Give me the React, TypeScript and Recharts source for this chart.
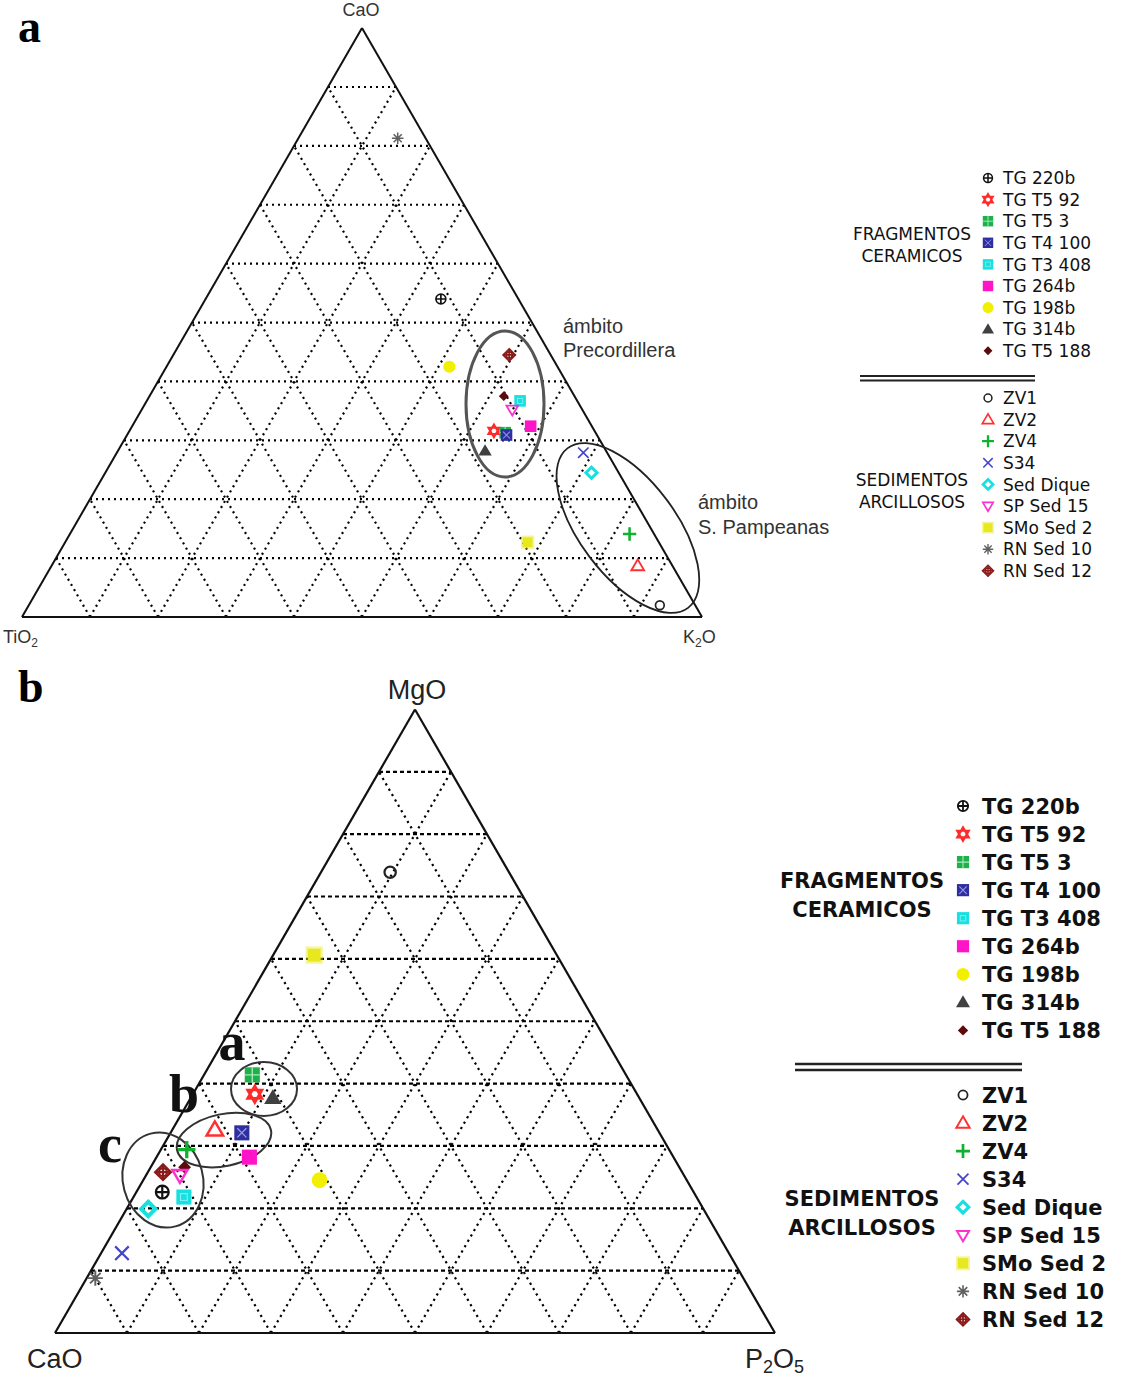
import React from 'react';
import { ScatterChart, Scatter, XAxis, YAxis, ReferenceLine } from 'recharts';

// sample names, in legend order
const SAMPLES = [
  'TG 220b', 'TG T5 92', 'TG T5 3', 'TG T4 100', 'TG T3 408', 'TG 264b', 'TG 198b', 'TG 314b', 'TG T5 188',
  'ZV1', 'ZV2', 'ZV4', 'S34', 'Sed Dique', 'SP Sed 15', 'SMo Sed 2', 'RN Sed 10', 'RN Sed 12',
];
const KINDS = [
  'crossCircle', 'star', 'squareGrid', 'squareHatch', 'squareCyan', 'square', 'circle', 'triangle', 'diamond',
  'openCircle', 'openTriangle', 'plus', 'x', 'openDiamond', 'downTriangle', 'squareSoft', 'asterisk', 'crossDiamond',
];
const COLORS = [
  '#111111', '#ff2a2a', '#1fb04a', '#2e2e9e', '#19e0e0', '#ff14c8', '#f2f000', '#404040', '#5c0a0a',
  '#222222', '#ff3030', '#10b030', '#4444cc', '#18e0e0', '#ff30d0', '#e8e820', '#606060', '#8a1a1a',
];

// panel a : CaO (top) - TiO2 (left) - K2O (right)
const A_CAO = [54.0, 31.6, 31.3, 30.9, 36.7, 32.4, 42.5, 28.2, 37.5, 2.0, 8.7, 14.1, 27.9, 24.5, 35.2, 12.7, 81.3, 44.5];
const A_TIO2 = [11.4, 14.8, 13.3, 13.3, 8.4, 9.0, 15.9, 17.8, 10.4, 5.2, 5.1, 3.6, 3.5, 4.0, 10.3, 19.3, 4.1, 6.1];
const A_K2O = [34.6, 53.6, 55.4, 55.8, 54.9, 58.6, 41.6, 54.0, 52.1, 92.8, 86.2, 82.3, 68.6, 71.5, 54.5, 68.0, 14.6, 49.4];

// panel b : MgO (top) - CaO (left) - P2O5 (right)
const B_MGO = [22.6, 38.3, 41.4, 32.1, 21.8, 28.2, 24.5, 37.7, 26.6, 73.9, 32.6, 29.4, 12.8, 19.9, 25.3, 60.6, 8.8, 25.8];
const B_CAO = [73.8, 53.1, 51.9, 58.0, 71.2, 58.9, 51.0, 50.9, 68.7, 16.5, 61.5, 67.0, 84.3, 77.1, 70.0, 33.7, 90.0, 72.1];
const B_P2O5 = [3.6, 8.6, 6.7, 9.9, 7.0, 12.9, 24.5, 11.4, 4.7, 9.6, 5.9, 3.6, 2.9, 3.0, 4.7, 5.7, 1.2, 2.1];

const TICKS = [10, 20, 30, 40, 50, 60, 70, 80, 90];

const H = Math.sqrt(3) / 2;
const toXY = (top: number, left: number, right: number) => {
  const sum = top + left + right;
  const t = (top / sum) * 100;
  const r = (right / sum) * 100;
  return { x: r + t / 2, y: t * H };
};

function Marker({ kind, color, cx, cy, s = 1 }: { kind: string; color: string; cx: number; cy: number; s?: number }) {
  const r = 5.8 * s;
  const w = 1.7 * s;
  switch (kind) {
    case 'crossCircle': {
      const q = r * 0.85;
      return (
        <g fill="none" stroke={color} strokeWidth={w}>
          <circle cx={cx} cy={cy} r={q} />
          <path d={`M${cx - q},${cy}H${cx + q}M${cx},${cy - q}V${cy + q}`} />
        </g>
      );
    }
    case 'star': {
      const a = r * 1.1;
      const up = `M${cx},${cy - a}L${cx + a * H},${cy + a / 2}L${cx - a * H},${cy + a / 2}Z`;
      const dn = `M${cx},${cy + a}L${cx + a * H},${cy - a / 2}L${cx - a * H},${cy - a / 2}Z`;
      return <path d={up + dn} fill="none" stroke={color} strokeWidth={w * 1.2} />;
    }
    case 'squareGrid':
      return (
        <g>
          <rect x={cx - r} y={cy - r} width={2 * r} height={2 * r} fill={color} />
          <path d={`M${cx - r},${cy}H${cx + r}M${cx},${cy - r}V${cy + r}`} stroke="#a8ecc0" strokeWidth={w * 0.6} />
        </g>
      );
    case 'squareHatch':
      return (
        <g>
          <rect x={cx - r} y={cy - r} width={2 * r} height={2 * r} fill={color} />
          <path d={`M${cx - r * 0.6},${cy - r * 0.6}L${cx + r * 0.6},${cy + r * 0.6}M${cx + r * 0.6},${cy - r * 0.6}L${cx - r * 0.6},${cy + r * 0.6}`} stroke="#9a9ae8" strokeWidth={w * 0.6} />
        </g>
      );
    case 'squareCyan':
      return (
        <g>
          <rect x={cx - r} y={cy - r} width={2 * r} height={2 * r} fill={color} />
          <rect x={cx - r * 0.45} y={cy - r * 0.45} width={r * 0.9} height={r * 0.9} fill="none" stroke="#7ff0f0" strokeWidth={w * 0.5} />
        </g>
      );
    case 'square':
      return <rect x={cx - r} y={cy - r} width={2 * r} height={2 * r} fill={color} />;
    case 'squareSoft':
      return (
        <g>
          <rect x={cx - r * 1.15} y={cy - r * 1.15} width={2.3 * r} height={2.3 * r} fill={color} opacity={0.45} />
          <rect x={cx - r * 0.85} y={cy - r * 0.85} width={1.7 * r} height={1.7 * r} fill={color} />
        </g>
      );
    case 'circle':
      return <circle cx={cx} cy={cy} r={r * 1.05} fill={color} />;
    case 'triangle': {
      const a = r * 1.15;
      return <path d={`M${cx},${cy - a}L${cx + a},${cy + a * 0.7}L${cx - a},${cy + a * 0.7}Z`} fill={color} />;
    }
    case 'diamond': {
      const a = r * 0.85;
      return <path d={`M${cx},${cy - a}L${cx + a},${cy}L${cx},${cy + a}L${cx - a},${cy}Z`} fill={color} />;
    }
    case 'openCircle':
      return <circle cx={cx} cy={cy} r={r * 0.75} fill="none" stroke={color} strokeWidth={w} />;
    case 'openTriangle': {
      const a = r * 1.1;
      return <path d={`M${cx},${cy - a}L${cx + a},${cy + a * 0.7}L${cx - a},${cy + a * 0.7}Z`} fill="none" stroke={color} strokeWidth={w * 1.1} />;
    }
    case 'downTriangle': {
      const a = r * 1.0;
      return <path d={`M${cx},${cy + a}L${cx + a},${cy - a * 0.7}L${cx - a},${cy - a * 0.7}Z`} fill="none" stroke={color} strokeWidth={w * 1.1} />;
    }
    case 'plus': {
      const a = r * 1.15;
      return <path d={`M${cx - a},${cy}H${cx + a}M${cx},${cy - a}V${cy + a}`} stroke={color} strokeWidth={w * 1.5} />;
    }
    case 'x': {
      const a = r * 0.9;
      return <path d={`M${cx - a},${cy - a}L${cx + a},${cy + a}M${cx + a},${cy - a}L${cx - a},${cy + a}`} stroke={color} strokeWidth={w} />;
    }
    case 'openDiamond': {
      const a = r * 0.95;
      return <path d={`M${cx},${cy - a}L${cx + a},${cy}L${cx},${cy + a}L${cx - a},${cy}Z`} fill="none" stroke={color} strokeWidth={w * 1.8} />;
    }
    case 'asterisk': {
      const a = r * 1.0;
      const d = a * 0.7;
      return (
        <path
          d={`M${cx - a},${cy}H${cx + a}M${cx},${cy - a}V${cy + a}M${cx - d},${cy - d}L${cx + d},${cy + d}M${cx + d},${cy - d}L${cx - d},${cy + d}`}
          stroke={color}
          strokeWidth={w * 0.9}
        />
      );
    }
    case 'crossDiamond': {
      const a = r * 1.05;
      return (
        <g fill="none" stroke={color} strokeWidth={w}>
          <path d={`M${cx},${cy - a}L${cx + a},${cy}L${cx},${cy + a}L${cx - a},${cy}Z`} />
          <circle cx={cx} cy={cy} r={a * 0.5} />
          <path d={`M${cx - a},${cy}H${cx + a}M${cx},${cy - a}V${cy + a}`} />
        </g>
      );
    }
    default:
      return null;
  }
}

type Ell = { x: number; y: number; rx: number; ry: number; rot: number; stroke: string; sw: number };

const gridLines = TICKS.flatMap((v) => [
  { dir: 'h', seg: [{ x: v / 2, y: v * H }, { x: 100 - v / 2, y: v * H }] },
  { dir: 'd', seg: [{ x: v, y: 0 }, { x: v + (100 - v) / 2, y: (100 - v) * H }] },
  { dir: 'd', seg: [{ x: 100 - v, y: 0 }, { x: (100 - v) / 2, y: (100 - v) * H }] },
]);
const edges = [
  [{ x: 0, y: 0 }, { x: 100, y: 0 }],
  [{ x: 0, y: 0 }, { x: 50, y: 100 * H }],
  [{ x: 100, y: 0 }, { x: 50, y: 100 * H }],
];

interface PanelProps {
  width: number;
  height: number;
  unit: number;
  ox: number;
  oy: number;
  top: number[];
  left: number[];
  right: number[];
  ms: number;
  hDash: string;
  dDash: string;
  edgeWidth: number;
  ellipses: Ell[];
}

function Ternary({ width, height, unit, ox, oy, top, left, right, ms, hDash, dDash, edgeWidth, ellipses }: PanelProps) {
  const data = SAMPLES.map((name, i) => ({ name, ...toXY(top[i], left[i], right[i]) }));
  return (
    <ScatterChart width={width} height={height} margin={{ top: 0, right: 0, bottom: 0, left: 0 }}>
      <XAxis type="number" dataKey="x" domain={[-ox / unit, (width - ox) / unit]} hide allowDataOverflow />
      <YAxis type="number" dataKey="y" domain={[(oy - height) / unit, oy / unit]} hide allowDataOverflow />
      {gridLines.map((g, i) => (
        <ReferenceLine
          key={`g${i}`}
          segment={g.seg}
          stroke="#000"
          strokeWidth={2.2}
          strokeDasharray={g.dir === 'h' ? hDash : dDash}
          ifOverflow="visible"
        />
      ))}
      {edges.map((seg, i) => (
        <ReferenceLine key={`e${i}`} segment={seg} stroke="#111" strokeWidth={edgeWidth} ifOverflow="visible" />
      ))}
      {ellipses.map((e, i) => (
        <Scatter
          key={`el${i}`}
          data={[{ x: e.x, y: e.y }]}
          isAnimationActive={false}
          shape={(p: any) => (
            <ellipse
              cx={p.cx}
              cy={p.cy}
              rx={e.rx}
              ry={e.ry}
              transform={`rotate(${e.rot} ${p.cx} ${p.cy})`}
              fill="none"
              stroke={e.stroke}
              strokeWidth={e.sw}
            />
          )}
        />
      ))}
      {data.map((d, i) => (
        <Scatter
          key={d.name}
          name={d.name}
          data={[d]}
          isAnimationActive={false}
          shape={(p: any) => <Marker kind={KINDS[i]} color={COLORS[i]} cx={p.cx} cy={p.cy} s={ms} />}
        />
      ))}
    </ScatterChart>
  );
}

const ELLIPSES_A: Ell[] = [
  { x: 71.03, y: 31.32, rx: 39, ry: 73, rot: 0, stroke: '#555', sw: 3 },
  { x: 89.1, y: 13.09, rx: 100, ry: 48, rot: 53, stroke: '#222', sw: 1.8 },
];
const ELLIPSES_B: Ell[] = [
  { x: 29.03, y: 33.89, rx: 33, ry: 27, rot: 0, stroke: '#333', sw: 2 },
  { x: 23.47, y: 26.8, rx: 48, ry: 26, rot: -12, stroke: '#333', sw: 2 },
  { x: 15.0, y: 21.25, rx: 40, ry: 48, rot: -15, stroke: '#333', sw: 2 },
];

function LegendBlock({ x, iconX, rows0, rows1, step, fs, bold, ms, head0, head1, headX, headY0, headY1, lineX0, lineX1, lineY, lineGap, lineW }: any) {
  const weight = bold ? 'bold' : 'normal';
  const frag = SAMPLES.slice(0, 9);
  const sed = SAMPLES.slice(9);
  return (
    <g fontFamily="DejaVu Sans, Verdana, sans-serif" fontSize={fs} fontWeight={weight} fill="#111">
      {frag.map((n, i) => (
        <g key={n}>
          <Marker kind={KINDS[i]} color={COLORS[i]} cx={iconX} cy={rows0 + i * step} s={ms} />
          <text x={x} y={rows0 + i * step + fs * 0.36}>{n}</text>
        </g>
      ))}
      {sed.map((n, j) => (
        <g key={n}>
          <Marker kind={KINDS[j + 9]} color={COLORS[j + 9]} cx={iconX} cy={rows1 + j * step} s={ms} />
          <text x={x} y={rows1 + j * step + fs * 0.36}>{n}</text>
        </g>
      ))}
      <text x={headX} y={headY0} textAnchor="middle">{head0[0]}</text>
      <text x={headX} y={headY0 + step * 1.03} textAnchor="middle">{head0[1]}</text>
      <text x={headX} y={headY1} textAnchor="middle">{head1[0]}</text>
      <text x={headX} y={headY1 + step * 1.03} textAnchor="middle">{head1[1]}</text>
      <line x1={lineX0} x2={lineX1} y1={lineY} y2={lineY} stroke="#222" strokeWidth={lineW} />
      <line x1={lineX0} x2={lineX1} y1={lineY + lineGap} y2={lineY + lineGap} stroke="#222" strokeWidth={lineW} />
    </g>
  );
}

export default function App() {
  return (
    <div style={{ position: 'absolute', left: 0, top: 0, width: 1126, height: 1400, background: '#fff', overflow: 'hidden' }}>
      <div style={{ position: 'absolute', left: 0, top: 0 }}>
        <Ternary
          width={1126}
          height={650}
          unit={6.8}
          ox={22}
          oy={617}
          top={A_CAO}
          left={A_TIO2}
          right={A_K2O}
          ms={1}
          hDash="2 4"
          dDash="2 4"
          edgeWidth={2}
          ellipses={ELLIPSES_A}
        />
      </div>
      <div style={{ position: 'absolute', left: 0, top: 650 }}>
        <Ternary
          width={1126}
          height={750}
          unit={7.2}
          ox={55}
          oy={683}
          top={B_MGO}
          left={B_CAO}
          right={B_P2O5}
          ms={1.3}
          hDash="4 3"
          dDash="2.2 4"
          edgeWidth={2.2}
          ellipses={ELLIPSES_B}
        />
      </div>
      <svg width={1126} height={1400} style={{ position: 'absolute', left: 0, top: 0, pointerEvents: 'none' }}>
        {/* panel letters */}
        <text x={18} y={42} fontFamily="Liberation Serif, serif" fontWeight="bold" fontSize={46} fill="#000">a</text>
        <text x={18} y={702} fontFamily="Liberation Serif, serif" fontWeight="bold" fontSize={46} fill="#000">b</text>

        {/* panel a labels */}
        <g fontFamily="Liberation Sans, Arial, sans-serif" fill="#333">
          <text x={361} y={16} fontSize={18} textAnchor="middle">CaO</text>
          <text x={3} y={643} fontSize={18}>TiO<tspan fontSize={12} dy={4}>2</tspan></text>
          <text x={683} y={643} fontSize={18}>K<tspan fontSize={12} dy={4}>2</tspan><tspan dy={-4}>O</tspan></text>
          <text x={563} y={333} fontSize={20}>ámbito</text>
          <text x={563} y={357} fontSize={20}>Precordillera</text>
          <text x={698} y={509} fontSize={20}>ámbito</text>
          <text x={698} y={534} fontSize={20}>S. Pampeanas</text>
        </g>

        {/* panel b labels */}
        <g fontFamily="Liberation Sans, Arial, sans-serif" fill="#222">
          <text x={417} y={699} fontSize={27} textAnchor="middle">MgO</text>
          <text x={27} y={1368} fontSize={27}>CaO</text>
          <text x={745} y={1368} fontSize={27}>P<tspan fontSize={18} dy={5}>2</tspan><tspan dy={-5}>O</tspan><tspan fontSize={18} dy={5}>5</tspan></text>
        </g>
        <g fontFamily="Liberation Serif, serif" fontWeight="bold" fontSize={54} fill="#111" textAnchor="middle">
          <text x={232} y={1060}>a</text>
          <text x={184} y={1112}>b</text>
          <text x={110} y={1162}>c</text>
        </g>

        <LegendBlock
          x={1003}
          iconX={988}
          rows0={178}
          rows1={398}
          step={21.6}
          fs={17}
          bold={false}
          ms={0.9}
          head0={['FRAGMENTOS', 'CERAMICOS']}
          head1={['SEDIMENTOS', 'ARCILLOSOS']}
          headX={912}
          headY0={240}
          headY1={486}
          lineX0={860}
          lineX1={1035}
          lineY={376}
          lineGap={4.5}
          lineW={2}
        />
        <LegendBlock
          x={982}
          iconX={963}
          rows0={806}
          rows1={1095}
          step={28.05}
          fs={21}
          bold={true}
          ms={1.05}
          head0={['FRAGMENTOS', 'CERAMICOS']}
          head1={['SEDIMENTOS', 'ARCILLOSOS']}
          headX={862}
          headY0={888}
          headY1={1206}
          lineX0={795}
          lineX1={1022}
          lineY={1064}
          lineGap={6}
          lineW={2.5}
        />
      </svg>
    </div>
  );
}
